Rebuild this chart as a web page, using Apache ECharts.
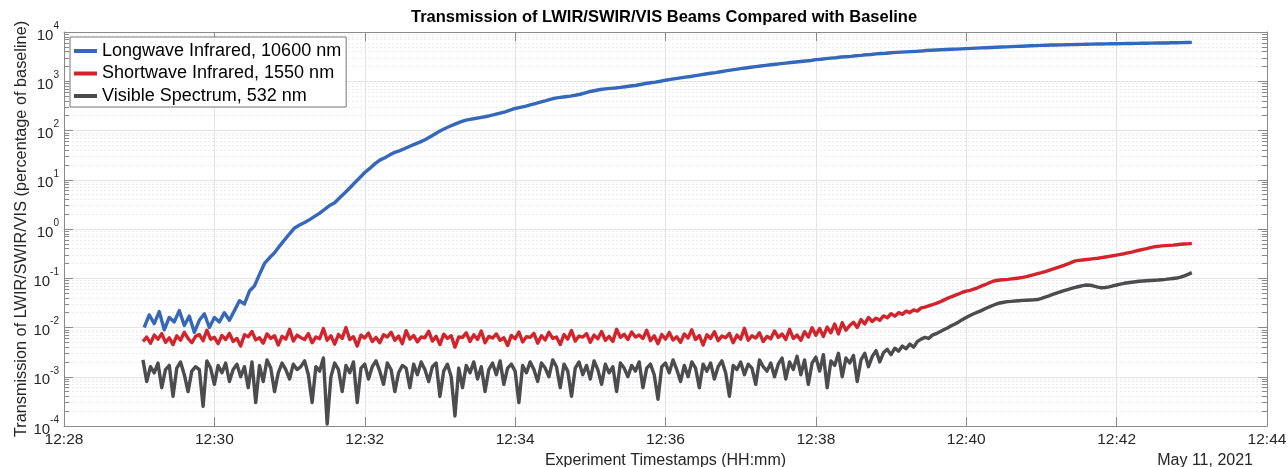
<!DOCTYPE html>
<html>
<head>
<meta charset="utf-8">
<script src="https://cdn.jsdelivr.net/npm/echarts@6/dist/echarts.min.js"></script>
<style>
html, body { margin: 0; padding: 0; background: #fff; }
#main { width: 1288px; height: 467px; }
</style>
</head>
<body>
<div id="main"></div>
<script>
// sample clocks: seconds after 12:28:00
const lwirStartSec = 64, lwirStepSec = 4;
const beamStartSec = 63, beamStepSec = 3;   // SWIR and VIS

// percentage of baseline
const lwir = [
  0.010, 0.018, 0.012, 0.021, 0.009, 0.016, 0.013, 0.022, 0.011, 0.017, 0.008, 0.014, 0.019, 0.010, 0.016, 0.013, 0.020, 0.014,
  0.022, 0.035, 0.030, 0.055, 0.070, 0.12, 0.20, 0.26, 0.33, 0.45, 0.60, 0.80,
  1.05, 1.2, 1.35, 1.55, 1.8, 2.1, 2.5, 3.0, 3.4, 4.3,
  5.4, 6.8, 8.7, 11, 14, 17, 21, 25, 28, 32,
  36, 39, 43, 48, 53, 58, 65, 74, 85, 98,
  110, 122, 135, 148, 160, 168, 175, 182, 190, 200,
  212, 225, 240, 260, 280, 295, 310, 330, 350, 375,
  400, 430, 455, 470, 485, 500, 520, 545, 580, 620,
  650, 680, 700, 715, 730, 750, 775, 800, 820, 860,
  900, 930, 960, 1000, 1050, 1090, 1130, 1170, 1210, 1250,
  1300, 1350, 1400, 1450, 1500, 1560, 1620, 1680, 1740, 1800,
  1860, 1920, 1980, 2040, 2100, 2160, 2220, 2280, 2340, 2400,
  2460, 2520, 2580, 2640, 2750, 2800, 2880, 2950, 3000, 3100,
  3150, 3200, 3300, 3350, 3450, 3500, 3600, 3650, 3700, 3800,
  3850, 3900, 3950, 4000, 4050, 4100, 4200, 4250, 4300, 4350,
  4400, 4450, 4500, 4550, 4600, 4650, 4700, 4750, 4800, 4850,
  4900, 4950, 5000, 5050, 5100, 5150, 5200, 5250, 5300, 5350,
  5400, 5430, 5460, 5490, 5520, 5550, 5580, 5610, 5640, 5670,
  5700, 5720, 5740, 5760, 5780, 5800, 5830, 5860, 5880, 5900,
  5920, 5940, 5960, 5980, 6000, 6030, 6060, 6090, 6120, 6150
];

const swir = [
  0.0052, 0.0064, 0.0048, 0.0070, 0.0058, 0.0075, 0.0050, 0.0062, 0.0045, 0.0068,
  0.0055, 0.0080, 0.0060, 0.0049, 0.0066, 0.0072, 0.0054, 0.0088, 0.0058, 0.0063,
  0.0047, 0.0069, 0.0057, 0.0076, 0.0052, 0.0060, 0.0042, 0.0071, 0.0065, 0.0083,
  0.0056, 0.0062, 0.0048, 0.0074, 0.0060, 0.0068, 0.0044, 0.0066, 0.0058, 0.0092,
  0.0053, 0.0070, 0.0062, 0.0057, 0.0075, 0.0049, 0.0064, 0.0059, 0.0095, 0.0055,
  0.0068, 0.0046, 0.0072, 0.0060, 0.0100, 0.0057, 0.0065, 0.0042, 0.0070, 0.0061,
  0.0077, 0.0052, 0.0063, 0.0049, 0.0071, 0.0064, 0.0080, 0.0055, 0.0067, 0.0047,
  0.0086, 0.0058, 0.0069, 0.0051, 0.0064, 0.0062, 0.0084, 0.0053, 0.0066, 0.0045,
  0.0073, 0.0060, 0.0068, 0.0040, 0.0064, 0.0063, 0.0078, 0.0052, 0.0071, 0.0057,
  0.0085, 0.0049, 0.0066, 0.0061, 0.0074, 0.0055, 0.0062, 0.0043, 0.0069, 0.0059,
  0.0081, 0.0051, 0.0065, 0.0063, 0.0076, 0.0048, 0.0068, 0.0056, 0.0080, 0.0060,
  0.0064, 0.0045, 0.0072, 0.0058, 0.0087, 0.0053, 0.0067, 0.0064, 0.0075, 0.0050,
  0.0070, 0.0059, 0.0083, 0.0055, 0.0066, 0.0052, 0.0092, 0.0063, 0.0073, 0.0057,
  0.0081, 0.0064, 0.0070, 0.0060, 0.0088, 0.0054, 0.0068, 0.0047, 0.0072, 0.0058,
  0.0079, 0.0056, 0.0065, 0.0050, 0.0074, 0.0061, 0.0090, 0.0057, 0.0069, 0.0044,
  0.0071, 0.0060, 0.0082, 0.0054, 0.0067, 0.0062, 0.0076, 0.0049, 0.0070, 0.0058,
  0.0096, 0.0055, 0.0068, 0.0061, 0.0078, 0.0052, 0.0066, 0.0059, 0.0085, 0.0063,
  0.0074, 0.0057, 0.0092, 0.0060, 0.0070, 0.0055, 0.0082, 0.0064, 0.0099,
  0.0070, 0.0095, 0.0066, 0.0102, 0.0078, 0.0118, 0.0074, 0.0125, 0.0088, 0.0110,
  0.0128, 0.0100, 0.0145, 0.0118, 0.0160, 0.0132, 0.0155, 0.0140, 0.0172, 0.0158,
  0.0190, 0.0170, 0.0200, 0.0185, 0.0215, 0.0200, 0.0228, 0.0215, 0.0250, 0.0260,
  0.0275, 0.0290, 0.0310, 0.0330, 0.0360, 0.0390, 0.0420, 0.0450, 0.0480, 0.0520,
  0.0545, 0.0570, 0.0600, 0.0640, 0.0690, 0.0740, 0.0800, 0.0860, 0.0900, 0.0920,
  0.0935, 0.0950, 0.0970, 0.0990, 0.1010, 0.1040, 0.1080, 0.1130, 0.1180, 0.1240,
  0.130, 0.137, 0.145, 0.153, 0.162, 0.172, 0.183, 0.195, 0.210, 0.225,
  0.230, 0.235, 0.240, 0.245, 0.250, 0.255, 0.262, 0.270, 0.278, 0.286,
  0.295, 0.305, 0.315, 0.328, 0.340, 0.355, 0.370, 0.385, 0.400, 0.420,
  0.435, 0.445, 0.455, 0.460, 0.465, 0.470, 0.480, 0.490, 0.495, 0.500, 0.510
];

const vis = [
  0.0022, 0.0008, 0.0016, 0.0012, 0.0019, 0.0006, 0.0014, 0.0017, 0.0004, 0.0015,
  0.0020, 0.0011, 0.0005, 0.0013, 0.0016, 0.0014, 0.00025, 0.0021, 0.0015, 0.0007,
  0.0017, 0.0012, 0.0019, 0.0008, 0.0014, 0.0018, 0.0010, 0.0016, 0.0006, 0.0020,
  0.0003, 0.0017, 0.0008, 0.0022, 0.0015, 0.0005, 0.0012, 0.0019, 0.0014, 0.0009,
  0.0018, 0.0014, 0.0016, 0.0021, 0.0011, 0.0003, 0.0016, 0.0013, 0.0024, 0.00011,
  0.0010, 0.0019, 0.0014, 0.0005, 0.0017, 0.0012, 0.0020, 0.0003, 0.0015, 0.0018,
  0.0009, 0.0016, 0.0021, 0.0013, 0.0007, 0.0019, 0.0014, 0.0005, 0.0012, 0.0017,
  0.0015, 0.0006, 0.0018, 0.0011, 0.0020, 0.0014, 0.0008, 0.0016, 0.0019, 0.0004,
  0.0013, 0.0018, 0.0010, 0.00016, 0.0015, 0.0006, 0.0017, 0.0012, 0.0020, 0.0009,
  0.0016, 0.0005, 0.0014, 0.0019, 0.0011, 0.0021, 0.0007, 0.0015, 0.0018, 0.0013,
  0.0003, 0.0017, 0.0012, 0.0020, 0.0014, 0.0008, 0.0019, 0.0015, 0.0010, 0.0022,
  0.0016, 0.0006, 0.0018, 0.0013, 0.0004, 0.0015, 0.0020, 0.0011, 0.0017, 0.0009,
  0.0021, 0.0014, 0.0007, 0.0018, 0.0012, 0.0016, 0.0005, 0.0019, 0.0015, 0.0010,
  0.0017, 0.0013, 0.0020, 0.0006, 0.0015, 0.0018, 0.0011, 0.00035, 0.0016, 0.0019,
  0.0012, 0.0022, 0.0014, 0.0008, 0.0017, 0.0010, 0.0020, 0.0015, 0.0006, 0.0018,
  0.0013, 0.0019, 0.0009, 0.0016, 0.0021, 0.0012, 0.0004, 0.0017, 0.0014, 0.0020,
  0.0011, 0.0018, 0.0015, 0.0007, 0.0022, 0.0016, 0.0013, 0.0019, 0.0010,
  0.0018, 0.0024, 0.0009, 0.0020, 0.0014, 0.0026, 0.0011, 0.0022, 0.0007, 0.0019,
  0.0025, 0.0013, 0.0028, 0.0006, 0.0021, 0.0017, 0.0030, 0.0010, 0.0024, 0.0019,
  0.0027, 0.0008, 0.0022, 0.0030, 0.0016, 0.0026, 0.0034, 0.0020, 0.0031, 0.0036,
  0.0028, 0.0038, 0.0033, 0.0042, 0.0037, 0.0046, 0.0040, 0.0052, 0.0058, 0.0063,
  0.0060, 0.0070, 0.0075, 0.0082, 0.0090, 0.0098, 0.0108, 0.0118, 0.0130, 0.0145,
  0.0160, 0.0175, 0.0190, 0.0205, 0.0220, 0.0240, 0.0260, 0.0280, 0.0300, 0.0315,
  0.0325, 0.0335, 0.0340, 0.0345, 0.0350, 0.0355, 0.0358, 0.0362, 0.0365, 0.0370,
  0.0390, 0.0415, 0.0440, 0.0470, 0.0500, 0.0530, 0.0560, 0.0590, 0.0620, 0.0650,
  0.0680, 0.0710, 0.0730, 0.0720, 0.0690, 0.0660, 0.0640, 0.0650, 0.0670, 0.0700,
  0.0730, 0.0760, 0.0790, 0.0810, 0.0830, 0.0850, 0.0870, 0.0880, 0.0890, 0.0900,
  0.0910, 0.0920, 0.0935, 0.0950, 0.0970, 0.0990, 0.1010, 0.1050, 0.1120, 0.1200, 0.1300
];

const seriesNames = ['Longwave Infrared, 10600 nm', 'Shortwave Infrared, 1550 nm', 'Visible Spectrum, 532 nm'];
const seriesColors = ['#3568ba', '#d2242c', '#4c4b4e'];

// x axis in minutes after 12:00
const xMin = 28, xMax = 44, xStep = 2;
const yMin = 1e-4, yMax = 1e4;
const decades = [-4, -3, -2, -1, 0, 1, 2, 3, 4];
const minorValues = [];
decades.slice(0, -1).forEach(e => {
  for (let k = 2; k <= 9; k++) minorValues.push(k * Math.pow(10, e));
});

const toPairs = (arr, start, step) => arr.map((v, i) => [xMin + (start + step * i) / 60, v]);

const fontFamily = 'Liberation Sans, Arial, Helvetica, sans-serif';
const axisGray = '#8a8a8a';
const textColor = '#262626';

const chart = echarts.init(document.getElementById('main'));

const logAxis = (extra) => Object.assign({
  type: 'log',
  logBase: 10,
  min: yMin,
  max: yMax,
  axisLine: { show: false },
  axisTick: { show: false },
  axisLabel: { show: false },
  splitLine: { show: false }
}, extra);

const option = {
  animation: false,
  textStyle: { fontFamily: fontFamily },
  title: [
    {
      text: 'Transmission of LWIR/SWIR/VIS Beams Compared with Baseline',
      left: 411,
      top: 9,
      padding: 0,
      textStyle: { fontSize: 16.5, fontWeight: 'bold', color: '#000', fontFamily: fontFamily }
    },
    {
      text: 'May 11, 2021',
      right: 35,
      top: 453,
      padding: 0,
      textStyle: { fontSize: 16, fontWeight: 'normal', color: textColor, fontFamily: fontFamily }
    }
  ],
  legend: {
    data: seriesNames,
    orient: 'vertical',
    left: 70,
    top: 37,
    padding: [4, 5, 1, 4],
    itemGap: 2.5,
    itemWidth: 23,
    itemHeight: 4,
    icon: 'rect',
    backgroundColor: '#fff',
    borderColor: '#777',
    borderWidth: 1,
    borderRadius: 0,
    textStyle: { fontSize: 18, lineHeight: 20, color: '#000', fontFamily: fontFamily }
  },
  grid: { left: 64, right: 21, top: 32, bottom: 41, containLabel: false, outerBoundsMode: 'none' },
  xAxis: [
    {
      type: 'value',
      min: xMin,
      max: xMax,
      interval: xStep,
      name: 'Experiment Timestamps (HH:mm)',
      nameLocation: 'middle',
      nameGap: 25,
      nameTextStyle: { fontSize: 16, color: textColor },
      axisLine: { show: true, lineStyle: { color: axisGray, width: 1 } },
      axisTick: { show: true, inside: true, length: 9, lineStyle: { color: axisGray } },
      axisLabel: {
        fontSize: 15.5,
        color: textColor,
        margin: 6,
        formatter: v => '12:' + String(v).padStart(2, '0')
      },
      splitLine: { show: true, lineStyle: { color: '#e4e4e4', width: 1 } }
    },
    {
      type: 'value',
      position: 'top',
      min: xMin,
      max: xMax,
      interval: xStep,
      axisLine: { show: true, onZero: false, lineStyle: { color: axisGray, width: 1 } },
      axisTick: { show: true, inside: true, length: 9, lineStyle: { color: axisGray } },
      axisLabel: { show: false },
      splitLine: { show: false }
    }
  ],
  yAxis: [
    logAxis({
      position: 'left',
      name: 'Transmission of LWIR/SWIR/VIS (percentage of baseline)',
      nameLocation: 'middle',
      nameGap: 34,
      nameMoveOverlap: false,
      nameTextStyle: { fontSize: 16.3, color: textColor },
      axisLine: { show: true, onZero: false, lineStyle: { color: axisGray, width: 1 } },
      axisTick: { show: true, inside: true, length: 9, lineStyle: { color: axisGray } },
      axisLabel: {
        show: true,
        margin: 5,
        color: textColor,
        formatter: v => '{b|10}{e|' + Math.round(Math.log10(v)) + '}',
        rich: {
          b: { fontSize: 15, color: textColor, fontFamily: fontFamily, verticalAlign: 'bottom', lineHeight: 22 },
          e: { fontSize: 10, color: textColor, fontFamily: fontFamily, verticalAlign: 'top', lineHeight: 22 }
        }
      },
      splitLine: { show: true, lineStyle: { color: '#e4e4e4', width: 1 } }
    }),
    logAxis({
      position: 'left',
      axisTick: { show: true, inside: true, length: 5, customValues: minorValues, lineStyle: { color: axisGray } },
      splitLine: { show: true, lineStyle: { color: '#ececec', width: 1, type: [2, 2] } }
    }),
    logAxis({
      position: 'right',
      axisLine: { show: true, onZero: false, lineStyle: { color: axisGray, width: 1 } },
      axisTick: { show: true, inside: true, length: 9, lineStyle: { color: axisGray } }
    }),
    logAxis({
      position: 'right',
      axisTick: { show: true, inside: true, length: 5, customValues: minorValues, lineStyle: { color: axisGray } }
    })
  ],
  series: [
    toPairs(lwir, lwirStartSec, lwirStepSec),
    toPairs(swir, beamStartSec, beamStepSec),
    toPairs(vis, beamStartSec, beamStepSec)
  ].map((pairs, k) => ({
    name: seriesNames[k],
    type: 'line',
    xAxisIndex: 0,
    yAxisIndex: 0,
    data: pairs,
    showSymbol: false,
    symbol: 'none',
    color: seriesColors[k],
    lineStyle: { width: 3.4, color: seriesColors[k], join: 'round' },
    z: 3 - k
  }))
};

chart.setOption(option);
</script>
</body>
</html>
